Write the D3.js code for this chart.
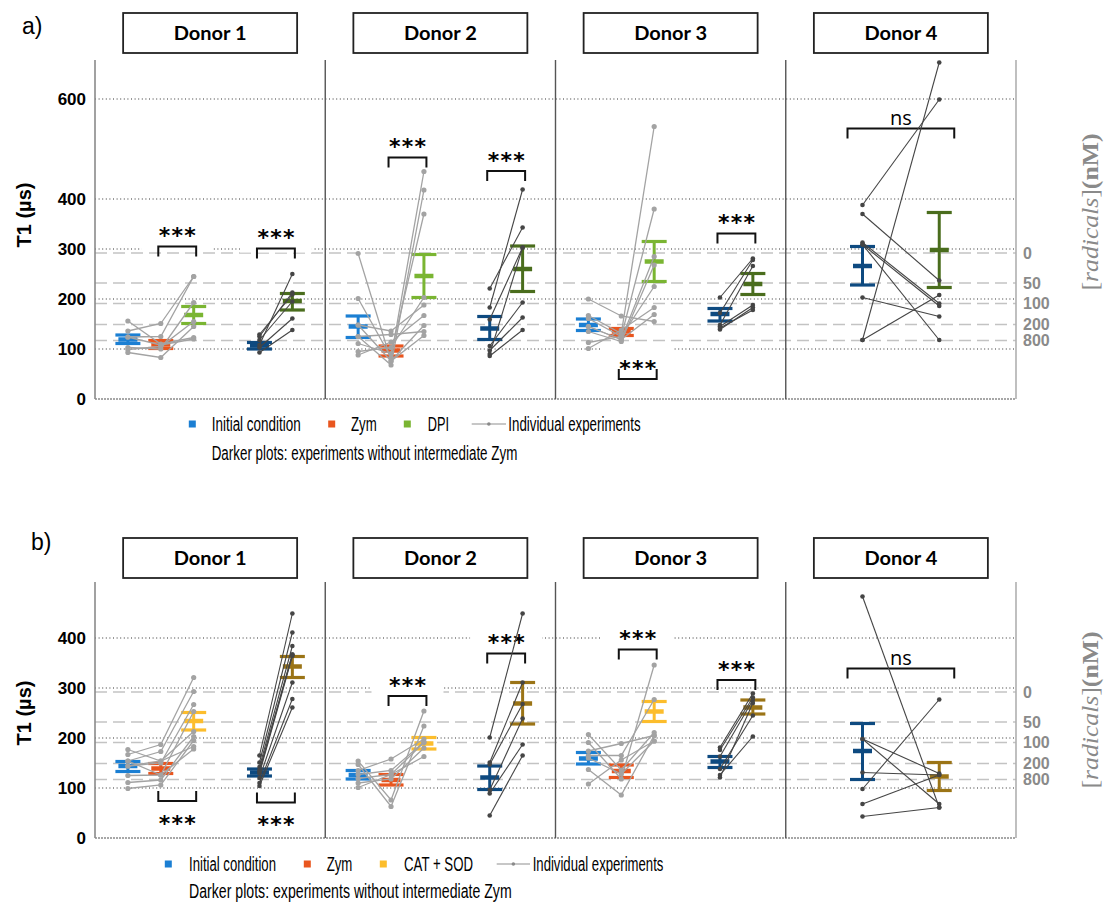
<!DOCTYPE html>
<html><head><meta charset="utf-8">
<script src="https://cdn.jsdelivr.net/npm/d3@7"></script>
<style>body{margin:0;background:#fff} svg{display:block}</style>
</head><body>
<svg id="chart" width="1106" height="910"></svg>
<script>
// ---------------- DATA ----------------
const donors = ["Donor 1","Donor 2","Donor 3","Donor 4"];
const radicalLabels = ["0","50","100","200","800"];
const radicalT1 = [292,232,191,149,117];
const ticksA = [0,100,200,300,400,600];
const ticksB = [0,100,200,300,400];
const legendA = ["Initial condition","Zym","DPI","Individual experiments"];
const legendB = ["Initial condition","Zym","CAT + SOD","Individual experiments"];
const noteText = "Darker plots: experiments without intermediate Zym";

// summaries per donor: [low, mean, high]
const aInitial   = [[111,119,128],[123,145,166],[137,148,160],null];
const aZym       = [[101,109,117],[86,97,106],[127,135,141],null];
const aDPI       = [[151,168,185],[203,246,289],[235,275,315],null];
const aInitialNZ = [[100,107,113],[119,141,165],[156,170,181],[228,266,305]];
const aDPINZ     = [[178,196,211],[215,260,306],[209,230,251],[223,298,373]];

const bInitial   = [[133,144,153],[118,126,135],[148,159,171],null];
const bZym       = [[129,139,149],[106,116,127],[121,134,146],null];
const bCAT       = [[216,234,251],[178,189,201],[233,253,273],null];
const bInitialNZ = [[124,131,138],[97,121,144],[141,153,163],[117,174,229]];
const bCATNZ     = [[321,343,363],[228,269,311],[248,261,276],[95,123,151]];

// individual experiments with Zym: [initial, zym, treatment]
const aExp = [
  [[156,110,123],[136,151,245],[124,125,245],[103,100,193],[99,105,155],[93,83,145],[124,108,120]],
  [[291,76,147],[201,83,455],[148,136,188],[125,68,418],[111,91,370],[95,103,203],[88,114,167],[125,129,135],[148,76,127]],
  [[200,166,155],[167,131,545],[161,125,380],[145,119,285],[135,115,268],[113,125,225],[101,138,183],[145,119,169]],
  []
];
// individual experiments without Zym: [initial, treatment]
const aExpNZ = [
  [[108,250],[125,213],[129,209],[118,195],[103,161],[93,138]],
  [[183,419],[221,343],[159,303],[106,193],[97,163],[86,138],[90,303]],
  [[203,281],[172,278],[148,266],[145,188],[139,183],[142,178]],
  [[118,673],[388,599],[370,237],[313,191],[309,186],[309,118],[203,165],[118,208]]
];
const bExp = [
  [[177,154,213],[167,187,321],[154,173,293],[144,150,267],[125,126,253],[111,116,203],[99,106,195],[144,154,183],[154,126,178]],
  [[154,76,254],[147,63,224],[135,158,198],[127,135,192],[119,127,191],[110,118,180],[101,127,163]],
  [[207,136,211],[191,118,346],[174,189,205],[165,165,277],[160,128,194],[137,86,205],[108,156,194]],
  []
];
const bExpNZ = [
  [[165,449],[151,411],[142,384],[136,367],[129,364],[120,311],[110,278],[104,261],[133,367]],
  [[201,449],[151,311],[147,268],[96,239],[89,187],[45,165]],
  [[181,289],[176,281],[163,276],[138,245],[126,203],[121,270]],
  [[483,61],[198,129],[198,68],[131,126],[98,277],[68,126],[43,61]]
];

// significance brackets: donor index, compared groups, T1 level, legs side, label side
const aBrackets = [
  {donor:0, from:"zym", to:"treat", at:305, side:"top", label:"***", pos:"above"},
  {donor:0, from:"initNZ", to:"treatNZ", at:301, side:"top", label:"***", pos:"above"},
  {donor:1, from:"zym", to:"treat", at:483, side:"top", label:"***", pos:"above"},
  {donor:1, from:"initNZ", to:"treatNZ", at:456, side:"top", label:"***", pos:"above"},
  {donor:2, from:"zym", to:"treat", at:40, side:"bottom", label:"***", pos:"above"},
  {donor:2, from:"initNZ", to:"treatNZ", at:331, side:"top", label:"***", pos:"above"},
  {donor:3, from:"initNZ", to:"treatNZ", at:541, side:"top", label:"ns", pos:"above"}
];
const bBrackets = [
  {donor:0, from:"zym", to:"treat", at:74, side:"bottom", label:"***", pos:"below"},
  {donor:0, from:"initNZ", to:"treatNZ", at:71, side:"bottom", label:"***", pos:"below"},
  {donor:1, from:"zym", to:"treat", at:284, side:"top", label:"***", pos:"above"},
  {donor:1, from:"initNZ", to:"treatNZ", at:369, side:"top", label:"***", pos:"above"},
  {donor:2, from:"zym", to:"treat", at:377, side:"top", label:"***", pos:"above"},
  {donor:2, from:"initNZ", to:"treatNZ", at:316, side:"top", label:"***", pos:"above"},
  {donor:3, from:"initNZ", to:"treatNZ", at:339, side:"top", label:"ns", pos:"above"}
];

// ---------------- LAYOUT / STYLE ----------------
const svg = d3.select("#chart");
const xLeft = 95, xRight = 1016;
const xDonor = d3.scaleBand().domain(donors).range([xLeft, xRight]).padding(0);
const bw = xDonor.bandwidth();
const slot7 = d3.scaleLinear().domain([0,7]).range([0,bw]);
const slot3 = d3.scaleLinear().domain([0,3]).range([0,bw]);
const slotIdx = {init:1, zym:2, treat:3, initNZ:5, treatNZ:6};
const slotIdx4 = {initNZ:1, treatNZ:2};
function xPos(di, key){
  return di < 3 ? xDonor(donors[di]) + slot7(slotIdx[key]) : xDonor(donors[di]) + slot3(slotIdx4[key]);
}

const panels = [
  {label:"a)", labelX:22, labelY:34, top:60,
   y:d3.scaleLinear().domain([0,600]).range([399,99]), ticks:ticksA,
   headerTop:13, titleY:215,
   sum:{init:aInitial, zym:aZym, treat:aDPI, initNZ:aInitialNZ, treatNZ:aDPINZ},
   colors:{init:"#1b7fd3", zym:"#e9561f", treat:"#7ab532", initNZ:"#0e4a80", treatNZ:"#4a6d1d"},
   exp:aExp, expNZ:aExpNZ, brackets:aBrackets, legend:legendA,
   legY:424, legSq:[192.3,331.7,407.3], legTx:[211.7,351,427.7], legLine:[471.7,506], legLast:508.3,
   legW:[89,25.7,21.3,132.3], noteX:211.7, noteY:453, noteW:305.6},
  {label:"b)", labelX:31, labelY:550, top:582,
   y:d3.scaleLinear().domain([0,400]).range([838,638]), ticks:ticksB,
   headerTop:538, titleY:713,
   sum:{init:bInitial, zym:bZym, treat:bCAT, initNZ:bInitialNZ, treatNZ:bCATNZ},
   colors:{init:"#1b7fd3", zym:"#e9561f", treat:"#fcbd2c", initNZ:"#0e4a80", treatNZ:"#9b7416"},
   exp:bExp, expNZ:bExpNZ, brackets:bBrackets, legend:legendB,
   legY:864, legSq:[168.3,307.3,383.3], legTx:[189,326.7,404], legLine:[496.7,530], legLast:532.7,
   legW:[87,25.7,69,130.7], noteX:189, noteY:891, noteW:322.7}
];

const lightGray = "#a3a3a3", darkGray = "#454545";

panels.forEach(P => {
  const g = svg.append("g");
  const y = P.y;
  const base = y(0);

  // panel label
  g.append("text").attr("x",P.labelX).attr("y",P.labelY)
    .attr("font-family","Liberation Sans, Arial, sans-serif").attr("font-size",23).text(P.label);

  // donor header boxes
  donors.forEach(d => {
    const cx = xDonor(d) + bw/2;
    g.append("rect").attr("x",cx-87).attr("y",P.headerTop).attr("width",174).attr("height",40)
      .attr("fill","#fff").attr("stroke","#222").attr("stroke-width",1.8);
    g.append("text").attr("x",cx).attr("y",P.headerTop+26.5).attr("text-anchor","middle")
      .attr("font-family","Lato, 'Liberation Sans', sans-serif").attr("font-weight","bold").attr("font-size",18)
      .attr("textLength",73).attr("lengthAdjust","spacingAndGlyphs").text(d);
  });

  // dotted grid
  g.selectAll(null).data(P.ticks.filter(t=>t>0)).enter().append("line")
    .attr("x1",xLeft).attr("x2",xRight).attr("y1",d=>y(d)).attr("y2",d=>y(d))
    .attr("stroke","#333").attr("stroke-width",1.1).attr("stroke-dasharray","1,2.6");
  // dashed radical lines
  g.selectAll(null).data(radicalT1).enter().append("line")
    .attr("x1",xLeft).attr("x2",xRight).attr("y1",d=>y(d)).attr("y2",d=>y(d))
    .attr("stroke","#c3c3c3").attr("stroke-width",1.3).attr("stroke-dasharray","12,6");

  // y tick labels
  g.selectAll(null).data(P.ticks).enter().append("text")
    .attr("x",86).attr("y",d=>y(d)+6).attr("text-anchor","end")
    .attr("font-family","Liberation Sans, Arial, sans-serif").attr("font-weight","bold").attr("font-size",17)
    .text(d=>d);
  // right radical labels
  g.selectAll(null).data(radicalT1).enter().append("text")
    .attr("x",1023).attr("y",d=>y(d)+5.5)
    .attr("font-family","Liberation Sans, Arial, sans-serif").attr("font-weight","bold").attr("font-size",16)
    .attr("fill","#8a8a8a").text((d,i)=>radicalLabels[i]);

  // y title
  g.append("text").attr("transform",`translate(31,${P.titleY}) rotate(-90)`).attr("text-anchor","middle")
    .attr("font-family","Liberation Sans, Arial, sans-serif").attr("font-weight","bold").attr("font-size",20)
    .text("T1 (µs)");
  // right title
  const rt = g.append("text").attr("transform",`translate(1098,${P.titleY-3}) rotate(-90)`).attr("text-anchor","middle")
    .attr("font-family","'Liberation Serif', 'DejaVu Serif', serif").attr("font-size",23).attr("fill","#8a8a8a")
    .attr("textLength",157).attr("lengthAdjust","spacingAndGlyphs");
  rt.append("tspan").text("[");
  rt.append("tspan").attr("font-style","italic").text("radicals");
  rt.append("tspan").text("]");
  rt.append("tspan").attr("font-weight","bold").text("(nM)");

  // brackets
  P.brackets.forEach(b => {
    const pad = b.donor < 3 ? 2.5 : 15;
    const x1 = xPos(b.donor,b.from) - pad, x2 = xPos(b.donor,b.to) + pad;
    const cx = (x1+x2)/2;
    const hy = y(b.at);
    const legEnd = b.side==="top" ? hy+10 : hy-10;
    const tc = b.pos==="above" ? hy-16 : hy+17;
    const isNs = b.label==="ns";
    if(!isNs){
      g.append("rect").attr("x",cx-36).attr("y",tc-16).attr("width",72).attr("height",36).attr("fill","#fff");
    }
    g.append("path").attr("d",`M${x1},${legEnd}V${hy}H${x2}V${legEnd}`)
      .attr("fill","none").attr("stroke","#111").attr("stroke-width",2);
    if(isNs){
      g.append("text").attr("x",cx).attr("y",hy-4).attr("text-anchor","middle")
        .attr("font-family","'Open Sans', Lato, sans-serif").attr("font-size",20).text(b.label);
    } else {
      g.append("text").attr("x",cx).attr("y",tc+12.5).attr("text-anchor","middle")
        .attr("font-family","'DejaVu Sans', sans-serif").attr("font-weight","bold").attr("font-size",22)
        .attr("textLength",37).attr("lengthAdjust","spacing").text(b.label);
    }
  });

  // summary error bars
  ["init","zym","treat","initNZ","treatNZ"].forEach(k => {
    P.sum[k].forEach((s,di) => {
      if(!s) return;
      const xc = xPos(di,k), c = P.colors[k];
      const [lo,m,hi] = s;
      g.append("line").attr("x1",xc).attr("x2",xc).attr("y1",y(lo)).attr("y2",y(hi)).attr("stroke",c).attr("stroke-width",3);
      [lo,hi].forEach(v => g.append("line").attr("x1",xc-12.5).attr("x2",xc+12.5).attr("y1",y(v)).attr("y2",y(v))
        .attr("stroke",c).attr("stroke-width",3.2));
      g.append("line").attr("x1",xc-9.5).attr("x2",xc+9.5).attr("y1",y(m)).attr("y2",y(m)).attr("stroke",c).attr("stroke-width",4.5);
    });
  });

  // individual experiments
  const line = d3.line().x(d=>d[0]).y(d=>d[1]);
  P.exp.forEach((list,di) => list.forEach(e => {
    const pts = [["init",e[0]],["zym",e[1]],["treat",e[2]]].map(([k,v])=>[xPos(di,k), y(v)]);
    g.append("path").attr("d",line(pts)).attr("fill","none").attr("stroke",lightGray).attr("stroke-width",1.3);
    pts.forEach(p => g.append("circle").attr("cx",p[0]).attr("cy",p[1]).attr("r",2.6).attr("fill",lightGray));
  }));
  P.expNZ.forEach((list,di) => list.forEach(e => {
    const pts = [["initNZ",e[0]],["treatNZ",e[1]]].map(([k,v])=>[xPos(di,k), y(v)]);
    g.append("path").attr("d",line(pts)).attr("fill","none").attr("stroke",darkGray).attr("stroke-width",1.1);
    pts.forEach(p => g.append("circle").attr("cx",p[0]).attr("cy",p[1]).attr("r",2.3).attr("fill",darkGray));
  }));

  // axes frame
  g.append("line").attr("x1",xLeft).attr("x2",xRight).attr("y1",base).attr("y2",base)
    .attr("stroke","#8a8a8a").attr("stroke-width",1.6).attr("stroke-dasharray","2,1");
  g.append("line").attr("x1",xLeft).attr("x2",xLeft).attr("y1",P.top).attr("y2",base).attr("stroke","#8a8a8a").attr("stroke-width",1.6);
  donors.slice(1).forEach(d => g.append("line").attr("x1",xDonor(d)).attr("x2",xDonor(d)).attr("y1",P.top).attr("y2",base)
    .attr("stroke","#555").attr("stroke-width",1.4));
  g.append("line").attr("x1",xRight).attr("x2",xRight).attr("y1",P.top).attr("y2",base).attr("stroke","#b0b0b0").attr("stroke-width",1.6);

  // legend
  const legColors = [P.colors.init, P.colors.zym, P.colors.treat];
  const lf = "'Liberation Sans Narrow', 'Liberation Sans', Arial, sans-serif";
  const fs = 20;
  legColors.forEach((c,i) => {
    g.append("rect").attr("x",P.legSq[i]-3.5).attr("y",P.legY-3.5).attr("width",7).attr("height",7).attr("fill",c);
    g.append("text").attr("x",P.legTx[i]).attr("y",P.legY+7).attr("font-family",lf).attr("font-size",fs)
      .attr("textLength",P.legW[i]).attr("lengthAdjust","spacingAndGlyphs").text(P.legend[i]);
  });
  g.append("line").attr("x1",P.legLine[0]).attr("x2",P.legLine[1]).attr("y1",P.legY).attr("y2",P.legY)
    .attr("stroke","#b5b5b5").attr("stroke-width",1.3);
  g.append("circle").attr("cx",(P.legLine[0]+P.legLine[1])/2).attr("cy",P.legY).attr("r",1.8).attr("fill","#8a8a8a");
  g.append("text").attr("x",P.legLast).attr("y",P.legY+7).attr("font-family",lf).attr("font-size",fs)
    .attr("textLength",P.legW[3]).attr("lengthAdjust","spacingAndGlyphs").text(P.legend[3]);
  g.append("text").attr("x",P.noteX).attr("y",P.noteY+7).attr("font-family",lf).attr("font-size",fs)
    .attr("textLength",P.noteW).attr("lengthAdjust","spacingAndGlyphs").text(noteText);
});
</script>
</body></html>
